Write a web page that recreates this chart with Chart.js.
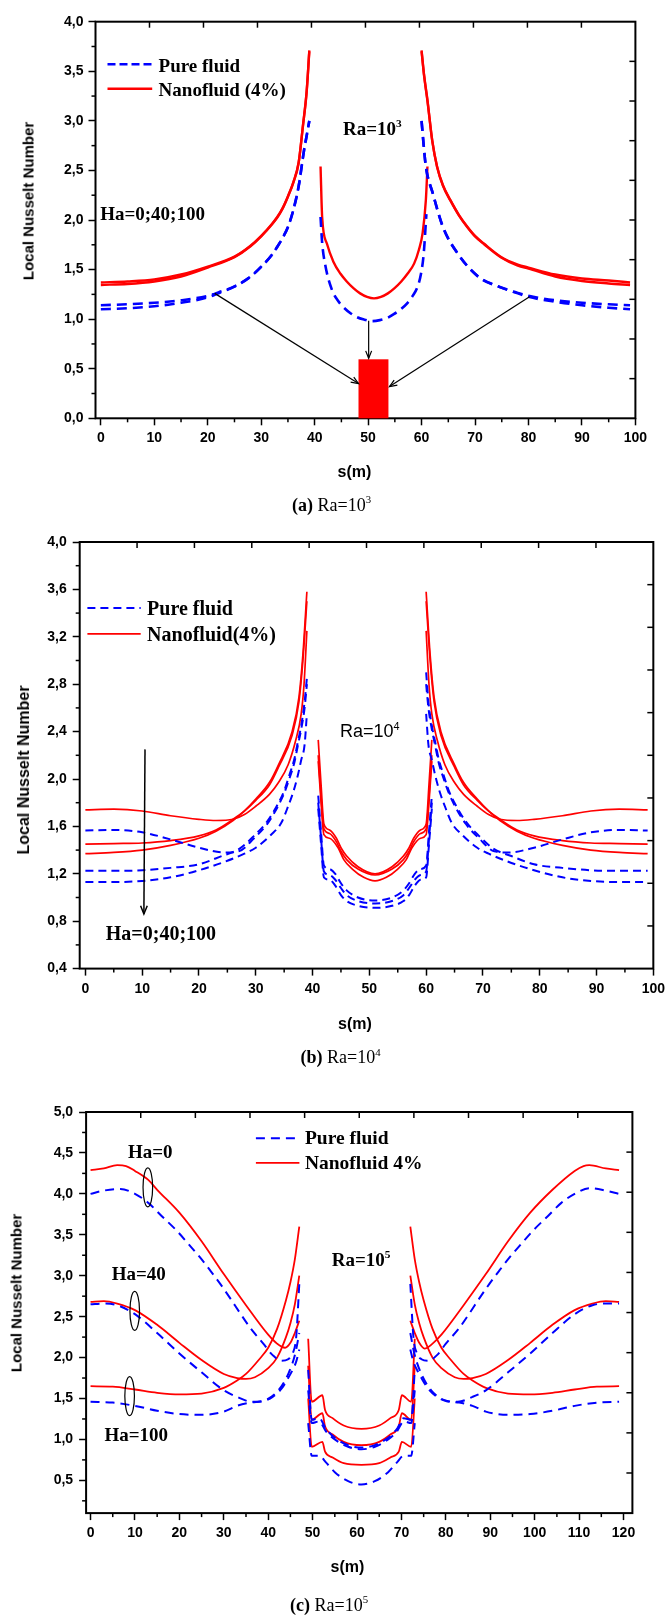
<!DOCTYPE html>
<html>
<head>
<meta charset="utf-8">
<script src="https://cdn.jsdelivr.net/npm/chart.js@4.4.0/dist/chart.umd.min.js"></script>
<style>
body { margin: 0; background: #fff; }
#page { position: relative; width: 670px; height: 1615px; background: #fff; overflow: hidden; }
canvas { position: absolute; left: 0; }
.t { position: absolute; white-space: nowrap; line-height: 1; color: #000; transform: translateY(-50%); }
.serif { font-family: "Liberation Serif", "Times New Roman", serif; font-weight: bold; }
.serifn { font-family: "Liberation Serif", "Times New Roman", serif; font-weight: normal; }
.sans { font-family: "Liberation Sans", Arial, sans-serif; }
.ytitle { font-family: "Liberation Sans", Arial, sans-serif; font-weight: bold; transform: translate(-50%, -50%) rotate(-90deg); }
.xtitle { font-family: "Liberation Sans", Arial, sans-serif; font-weight: bold; transform: translate(-50%, -50%); }
.sup { font-size: 60%; position: relative; top: -0.7em; }
</style>
</head>
<body>
<div id="page">
  <canvas id="chartA" width="670" height="520" style="top:0px"></canvas>
  <canvas id="chartB" width="670" height="530" style="top:520px"></canvas>
  <canvas id="chartC" width="670" height="565" style="top:1050px"></canvas>

  <!-- (a) -->
  <div class="t serif" style="left:158.6px; top:64.5px; font-size:19px">Pure fluid</div>
  <div class="t serif" style="left:158.6px; top:89px; font-size:19px">Nanofluid (4%)</div>
  <div class="t serif" style="left:343px; top:128px; font-size:19px">Ra=10<span class="sup">3</span></div>
  <div class="t serif" style="left:100.2px; top:213.3px; font-size:19px">Ha=0;40;100</div>
  <div class="t ytitle" style="left:27.7px; top:200.8px; font-size:15px">Local Nusselt Number</div>
  <div class="t xtitle" style="left:354.4px; top:471.7px; font-size:16px">s(m)</div>
  <div class="t serifn" style="left:292px; top:505px; font-size:18px"><b>(a)</b> Ra=10<span class="sup">3</span></div>

  <!-- (b) -->
  <div class="t serif" style="left:147.1px; top:607.9px; font-size:20px">Pure fluid</div>
  <div class="t serif" style="left:147.1px; top:633.9px; font-size:20px">Nanofluid(4%)</div>
  <div class="t sans" style="left:340px; top:731.3px; font-size:18px">Ra=10<span class="sup">4</span></div>
  <div class="t serif" style="left:105.8px; top:933.1px; font-size:20px">Ha=0;40;100</div>
  <div class="t ytitle" style="left:23.5px; top:770.2px; font-size:16px">Local Nusselt Number</div>
  <div class="t xtitle" style="left:355px; top:1023.7px; font-size:16px">s(m)</div>
  <div class="t serifn" style="left:300.6px; top:1057.2px; font-size:18px"><b>(b)</b> Ra=10<span class="sup">4</span></div>

  <!-- (c) -->
  <div class="t serif" style="left:304.9px; top:1138.3px; font-size:19.5px">Pure fluid</div>
  <div class="t serif" style="left:304.9px; top:1162.8px; font-size:19.5px">Nanofluid 4%</div>
  <div class="t serif" style="left:128px; top:1150.9px; font-size:19px">Ha=0</div>
  <div class="t serif" style="left:111.7px; top:1273.4px; font-size:19px">Ha=40</div>
  <div class="t serif" style="left:104.5px; top:1433.8px; font-size:19px">Ha=100</div>
  <div class="t serif" style="left:331.8px; top:1259px; font-size:19px">Ra=10<span class="sup">5</span></div>
  <div class="t ytitle" style="left:16.2px; top:1293.2px; font-size:15px">Local Nusselt Number</div>
  <div class="t xtitle" style="left:347.5px; top:1567.1px; font-size:16px">s(m)</div>
  <div class="t serifn" style="left:290px; top:1605px; font-size:18px"><b>(c)</b> Ra=10<span class="sup">5</span></div>
</div>

<script>
// ===== (a) Ra=10^3 : [s, Nu] =====
var aRedLeft1 = [[0,1.37],[5,1.38],[10,1.40],[15,1.45],[20,1.53],[25,1.63],[28,1.74],[30,1.84],[32,1.96],[33,2.03],[34,2.12],[35,2.24],[36,2.38],[37,2.58],[37.8,2.95],[38.5,3.3],[39,3.71]];
var aRedLeft2 = [[0,1.345],[5,1.355],[10,1.38],[15,1.43],[20,1.52],[25,1.625],[28,1.735],[30,1.835],[32,1.955],[33,2.025],[34,2.115],[35,2.235],[36,2.375],[37,2.575],[37.8,2.945],[38.5,3.29],[39,3.7]];
var aRedMid = [[41.1,2.54],[41.4,2.03],[42.3,1.76],[43.5,1.58],[44.8,1.46],[46,1.38],[47.3,1.31],[48.5,1.26],[49.8,1.225],[51.1,1.21],[52.4,1.225],[53.7,1.26],[54.9,1.31],[56.2,1.38],[57.4,1.46],[58.6,1.56],[59.5,1.7],[60.2,1.87],[60.8,2.2],[61.1,2.54]];
var aRedRight1 = [[60,3.71],[60.5,3.45],[61.1,3.21],[62,2.8],[62.9,2.54],[64,2.35],[65.4,2.2],[67,2.05],[68.6,1.93],[70,1.84],[71.7,1.76],[74.8,1.63],[78,1.55],[80,1.52],[85,1.45],[90,1.41],[95,1.39],[99,1.37]];
var aRedRight2 = [[60,3.7],[60.5,3.44],[61.1,3.2],[62,2.795],[62.9,2.535],[64,2.345],[65.4,2.195],[67,2.045],[68.6,1.925],[70,1.835],[71.7,1.755],[74.8,1.625],[78,1.54],[80,1.51],[85,1.43],[90,1.385],[95,1.36],[99,1.345]];
var aBlueLeft1 = [[0,1.14],[5,1.15],[10,1.165],[15,1.19],[20,1.235],[22,1.27],[25,1.33],[28,1.43],[30,1.53],[32,1.65],[33,1.73],[34,1.82],[35,1.93],[36,2.1],[37,2.34],[38,2.7],[38.5,2.85],[39,3.0]];
var aBlueLeft2 = [[0,1.10],[5,1.11],[10,1.13],[15,1.165],[20,1.22],[22,1.262],[25,1.328],[28,1.428],[30,1.528],[32,1.648],[33,1.728],[34,1.818],[35,1.928],[36,2.098],[37,2.338],[38,2.698],[38.5,2.848],[39,2.998]];
var aBlueMid = [[41.1,2.03],[41.4,1.77],[42,1.54],[43.2,1.3],[44.3,1.19],[45.4,1.12],[46.7,1.06],[47.9,1.02],[49.3,0.995],[50.7,0.98],[52.2,0.99],[53.5,1.01],[54.8,1.05],[56.1,1.1],[57.3,1.16],[58.4,1.24],[59.2,1.32],[59.9,1.46],[60.4,1.66],[60.9,2.06]];
var aBlueRight1 = [[60,3.0],[60.4,2.75],[60.8,2.54],[62.1,2.27],[64,1.93],[66.8,1.66],[70.6,1.43],[74.4,1.33],[78,1.265],[80,1.235],[85,1.19],[90,1.165],[95,1.15],[99,1.14]];
var aBlueRight2 = [[60,2.998],[60.4,2.748],[60.8,2.538],[62.1,2.268],[64,1.928],[66.8,1.658],[70.6,1.428],[74.4,1.328],[78,1.26],[80,1.225],[85,1.175],[90,1.14],[95,1.115],[99,1.10]];
var aXTicks = [0,10,20,30,40,50,60,70,80,90,100];
var aXMinor = [5,15,25,35,45,55,65,75,85,95];
var aYTicks = [0,0.5,1,1.5,2,2.5,3,3.5,4];
var aYMinor = [0.25,0.75,1.25,1.75,2.25,2.75,3.25,3.75];
var aArrows = [[21.3,1.26,48.2,0.35],[80.2,1.227,54.0,0.32],[50.1,0.985,50.1,0.605]];
var aHeater = [48.2,53.8,0,0.595];

// ===== (b) Ra=10^4 =====
var bRed0L = [[0,1.74],[5,1.745],[10,1.73],[15,1.69],[20,1.66],[23,1.65],[26,1.66],[28,1.7],[30,1.77],[32.4,1.87],[34,1.97],[35.7,2.12],[37,2.32],[38,2.55],[38.5,2.8],[39,3.25]];
var bRed40L = [[0,1.45],[5,1.455],[10,1.46],[15,1.48],[20,1.52],[23,1.57],[26,1.66],[28,1.73],[30,1.82],[32.4,1.95],[34,2.1],[36.4,2.37],[37.6,2.65],[38.3,3.0],[39,3.5]];
var bRed100L = [[0,1.37],[5,1.38],[10,1.4],[15,1.44],[20,1.5],[23,1.56],[26,1.65],[28,1.73],[30,1.83],[32.4,1.97],[34,2.12],[36.4,2.4],[37.6,2.69],[38.3,3.05],[39,3.58]];
var bRed0M = [[41,2.33],[41.5,1.95],[42,1.62],[43,1.57],[44.2,1.5],[45,1.42],[46,1.35],[48,1.26],[51,1.2],[54,1.26],[56,1.35],[57,1.42],[57.8,1.5],[59,1.57],[60,1.62],[60.5,1.95],[61,2.33]];
var bRed40M = [[41,2.2],[41.5,1.85],[42,1.58],[43,1.54],[44.2,1.47],[45,1.39],[46,1.32],[48,1.24],[51,1.19],[54,1.24],[56,1.32],[57,1.39],[57.8,1.47],[59,1.54],[60,1.58],[60.5,1.85],[61,2.2]];
var bRed100M = [[41,2.15],[41.5,1.8],[42,1.53],[43,1.5],[44.5,1.42],[45.5,1.32],[47,1.24],[49,1.17],[51,1.14],[53,1.17],[55,1.24],[56.5,1.32],[57.5,1.42],[59,1.5],[60,1.53],[60.5,1.8],[61,2.15]];
var bRed0R = [[60,3.25],[60.5,2.8],[61,2.55],[62,2.32],[63.3,2.12],[65,1.97],[66.6,1.87],[69,1.77],[71,1.7],[73,1.66],[76,1.65],[79,1.66],[84,1.69],[89,1.73],[94,1.745],[99,1.74]];
var bRed40R = [[60,3.5],[60.7,3.0],[61.4,2.65],[62.6,2.37],[65,2.1],[66.6,1.95],[69,1.82],[71,1.73],[73,1.66],[76,1.57],[79,1.52],[84,1.48],[89,1.46],[94,1.455],[99,1.45]];
var bRed100R = [[60,3.58],[60.7,3.05],[61.4,2.69],[62.6,2.4],[65,2.12],[66.6,1.97],[69,1.83],[71,1.73],[73,1.65],[76,1.56],[79,1.5],[84,1.44],[89,1.4],[94,1.38],[99,1.37]];
var bBlue0L = [[0,1.565],[5,1.57],[10,1.55],[15,1.49],[20,1.42],[24.5,1.38],[27,1.39],[29.7,1.5],[32,1.62],[33.8,1.76],[35,1.88],[35.9,2.0],[36.8,2.14],[37.4,2.28],[38,2.42],[38.6,2.6],[39,2.8]];
var bBlue40L = [[0,1.225],[5,1.225],[10,1.23],[15,1.25],[20,1.28],[24,1.35],[27.1,1.41],[29.7,1.52],[32,1.64],[33.8,1.78],[35,1.9],[35.9,2.03],[36.8,2.17],[37.4,2.31],[38,2.45],[38.6,2.65],[39,2.85]];
var bBlue100L = [[0,1.13],[5,1.13],[10,1.14],[15,1.17],[20,1.23],[25,1.31],[28,1.37],[30,1.42],[32.7,1.53],[34.5,1.63],[35.7,1.77],[36.6,1.89],[37.4,2.03],[38,2.16],[38.6,2.29],[39,2.55]];
var bBlue0M = [[41,1.86],[41.5,1.55],[42,1.27],[43,1.24],[44,1.2],[45,1.12],[46,1.06],[48,1.0],[51,0.975],[54,1.0],[56,1.06],[57,1.12],[58,1.2],[59,1.24],[60,1.27],[60.5,1.55],[61,1.86]];
var bBlue40M = [[41,1.8],[41.5,1.5],[42,1.22],[43,1.19],[44,1.15],[45,1.08],[46,1.02],[48,0.97],[51,0.95],[54,0.97],[56,1.02],[57,1.08],[58,1.15],[59,1.19],[60,1.22],[60.5,1.5],[61,1.8]];
var bBlue100M = [[41,1.75],[41.5,1.45],[42,1.17],[43,1.15],[44,1.1],[45,1.02],[46,0.97],[48,0.93],[51,0.913],[54,0.93],[56,0.97],[57,1.02],[58,1.1],[59,1.15],[60,1.17],[60.5,1.45],[61,1.75]];
var bBlue0R = [[60,2.8],[60.4,2.6],[61,2.42],[61.6,2.28],[62.2,2.14],[63.1,2.0],[64,1.88],[65.2,1.76],[67,1.62],[69.3,1.5],[72,1.39],[74.5,1.38],[79,1.42],[84,1.49],[89,1.55],[94,1.57],[99,1.565]];
var bBlue40R = [[60,2.9],[60.4,2.65],[61,2.45],[61.6,2.31],[62.2,2.17],[63.1,2.03],[64,1.9],[65.2,1.78],[67,1.64],[69.3,1.52],[71.9,1.41],[75,1.35],[79,1.28],[84,1.25],[89,1.23],[94,1.225],[99,1.225]];
var bBlue100R = [[60,2.55],[60.4,2.29],[61,2.16],[61.6,2.03],[62.4,1.89],[63.3,1.77],[64.5,1.63],[66.3,1.53],[69,1.42],[71,1.37],[74,1.31],[79,1.23],[84,1.17],[89,1.14],[94,1.13],[99,1.13]];
var bXTicks = [0,10,20,30,40,50,60,70,80,90,100];
var bXMinor = [5,15,25,35,45,55,65,75,85,95];
var bYTicks = [0.4,0.8,1.2,1.6,2.0,2.4,2.8,3.2,3.6,4.0];
var bYMinor = [0.6,1.0,1.4,1.8,2.2,2.6,3.0,3.4,3.8];
var bArrow = [10.5,2.25,10.3,0.86];

// ===== (c) Ra=10^5 =====
var cRed0L = [[0,4.29],[3,4.31],[6,4.35],[8,4.34],[10,4.28],[13,4.17],[15,4.05],[20,3.77],[25,3.42],[30,3.02],[35,2.64],[40,2.28],[42,2.17],[43.8,2.12],[45,2.18],[46,2.3],[47,2.45]];
var cRed40L = [[0,2.68],[3,2.69],[6,2.66],[10,2.58],[15,2.4],[20,2.18],[25,1.97],[30,1.8],[33,1.75],[35,1.74],[37,1.76],[40,1.87],[42,2.0],[44,2.25],[45,2.42],[46,2.65],[47,3.0]];
var cRed100L = [[0,1.65],[5,1.645],[10,1.61],[15,1.57],[20,1.55],[25,1.56],[30,1.63],[33,1.72],[35,1.8],[38,1.98],[40,2.12],[42,2.35],[44,2.7],[45,2.92],[46,3.2],[47,3.6]];
var cRed0M = [[49,2.23],[49.8,1.46],[52.2,1.54],[52.8,1.36],[54.5,1.26],[57,1.17],[61,1.13],[65,1.17],[67.5,1.26],[69.4,1.36],[70.1,1.54],[72.2,1.46],[73,2.23]];
var cRed40M = [[49,1.9],[49.8,1.24],[52.2,1.32],[52.8,1.16],[54.5,1.06],[57,0.97],[61,0.93],[65,0.97],[67.5,1.06],[69.4,1.16],[70.1,1.32],[72.2,1.24],[73,1.9]];
var cRed100M = [[49,1.5],[49.8,0.91],[52.2,0.97],[52.8,0.85],[54.5,0.78],[57,0.71],[61,0.69],[65,0.71],[67.5,0.78],[69.4,0.85],[70.1,0.97],[72.2,0.91],[73,1.5]];
var cRed0R = [[72,2.45],[73,2.3],[74,2.18],[75.2,2.11],[77,2.17],[79,2.28],[84,2.64],[89,3.02],[94,3.42],[99,3.77],[104,4.05],[109,4.28],[111,4.34],[112.3,4.35],[116,4.31],[119,4.29]];
var cRed40R = [[72,3.0],[73,2.65],[74,2.42],[75,2.25],[77,2.0],[79,1.87],[82,1.76],[84,1.74],[86,1.75],[89,1.8],[94,1.97],[99,2.18],[104,2.4],[109,2.58],[113,2.66],[116,2.69],[119,2.68]];
var cRed100R = [[72,3.6],[73,3.2],[74,2.92],[75,2.7],[77,2.35],[79,2.12],[81,1.98],[84,1.8],[86,1.72],[89,1.63],[94,1.56],[99,1.55],[104,1.57],[109,1.61],[114,1.645],[119,1.65]];
var cBlue0L = [[0,4.0],[3,4.04],[6.7,4.06],[10,4.0],[13,3.89],[16,3.73],[19.4,3.55],[22,3.39],[24.7,3.22],[27,3.06],[29.2,2.9],[31.5,2.72],[33.7,2.54],[36,2.36],[38.9,2.17],[41,2.03],[43,1.96],[44.5,1.98],[45.5,2.05],[46.3,2.25],[47,2.9]];
var cBlue40L = [[0,2.65],[3,2.66],[6,2.64],[10,2.53],[15,2.3],[20,2.05],[25,1.82],[30,1.6],[33,1.52],[36.3,1.46],[39.3,1.48],[42.3,1.6],[44.6,1.81],[46.1,2.05],[47,2.3]];
var cBlue100L = [[0,1.46],[5,1.45],[10,1.41],[15,1.35],[20,1.31],[25,1.3],[30,1.34],[33,1.41],[36,1.45],[39,1.47],[41,1.52],[43,1.62],[44.5,1.75],[45.5,1.85],[46.3,1.95],[47,2.1]];
var cBlue0M = [[49,1.85],[49.8,1.24],[51.5,1.26],[53,1.13],[55,1.02],[58,0.93],[61,0.9],[64,0.93],[67,1.02],[69,1.13],[70.5,1.26],[72.2,1.24],[73,1.85]];
var cBlue40M = [[49,1.6],[49.8,1.2],[51.5,1.22],[53,1.1],[55,1.0],[58,0.91],[61,0.88],[64,0.91],[67,1.0],[69,1.1],[70.5,1.22],[72.2,1.2],[73,1.6]];
var cBlue100M = [[49,1.2],[49.8,0.8],[51.5,0.8],[53,0.72],[55,0.6],[58,0.49],[61,0.45],[64,0.49],[67,0.6],[69,0.72],[70.5,0.8],[72.2,0.8],[73,1.2]];
var cBlue0R = [[72,2.9],[72.7,2.25],[73.5,2.05],[74.5,1.98],[76,1.96],[78,2.03],[80,2.17],[83,2.36],[85.3,2.54],[87.5,2.72],[89.8,2.9],[92,3.06],[94.3,3.22],[97,3.39],[99.6,3.55],[103,3.73],[106,3.89],[109,4.0],[112.3,4.07],[116,4.04],[119,4.0]];
var cBlue40R = [[72,2.3],[72.9,2.05],[74.4,1.81],[76.7,1.6],[79.7,1.48],[82.7,1.46],[86,1.52],[89,1.6],[94,1.82],[99,2.05],[104,2.3],[109,2.53],[113,2.64],[116,2.66],[119,2.66]];
var cBlue100R = [[72,2.1],[72.7,1.95],[73.5,1.85],[74.5,1.75],[76,1.62],[78,1.52],[80,1.47],[83,1.45],[86,1.41],[89,1.34],[94,1.3],[99,1.31],[104,1.35],[109,1.41],[114,1.45],[119,1.46]];
var cXTicks = [0,10,20,30,40,50,60,70,80,90,100,110,120];
var cXMinor = [5,15,25,35,45,55,65,75,85,95,105,115];
var cYTicks = [0.5,1,1.5,2,2.5,3,3.5,4,4.5,5];
var cYMinor = [0.25,0.75,1.25,1.75,2.25,2.75,3.25,3.75,4.25,4.75];
var cEllipses = [[12.9,4.08],[9.95,2.57],[8.8,1.53]];

Chart.defaults.font.family = "'Liberation Sans', Arial, sans-serif";
Chart.defaults.color = '#000';

var RED = 'rgb(255,0,0)';
var BLUE = 'rgb(0,0,255)';

function toXY(arr) {
    return arr.map(function(p){ return { x: p[0], y: p[1] }; });
}

function redLine(arr, w) {
    return { data: toXY(arr), borderColor: RED, borderWidth: w, pointRadius: 0, fill: false, cubicInterpolationMode: 'monotone' };
}

function blueLine(arr, w, dash) {
    return { data: toXY(arr), borderColor: BLUE, borderWidth: w, borderDash: dash, pointRadius: 0, fill: false, cubicInterpolationMode: 'monotone' };
}

function seg(ctx, x1, y1, x2, y2) {
    ctx.beginPath(); ctx.moveTo(x1, y1); ctx.lineTo(x2, y2); ctx.stroke();
}

function arrow(ctx, x1, y1, x2, y2, head) {
    seg(ctx, x1, y1, x2, y2);
    var ang = Math.atan2(y2 - y1, x2 - x1);
    ctx.beginPath();
    ctx.moveTo(x2 - head * Math.cos(ang - 0.38), y2 - head * Math.sin(ang - 0.38));
    ctx.lineTo(x2, y2);
    ctx.lineTo(x2 - head * Math.cos(ang + 0.38), y2 - head * Math.sin(ang + 0.38));
    ctx.stroke();
}

// frame, minor ticks, mirrored top/right ticks, legend samples and extras
function framePlugin(o) {
    return {
        id: 'frame',
        afterDraw: function(chart) {
            var ctx = chart.ctx, a = chart.chartArea;
            var xs = chart.scales.x, ys = chart.scales.y;
            ctx.save();
            ctx.strokeStyle = '#000';
            ctx.lineWidth = 1.5;
            o.xMinor.forEach(function(v){ var px = xs.getPixelForValue(v); seg(ctx, px, a.bottom, px, a.bottom + 4); });
            o.yMinor.forEach(function(v){ var py = ys.getPixelForValue(v); seg(ctx, a.left - 4, py, a.left, py); });
            for (var i = 1; i < 10; i++) {
                var px = a.left + (a.right - a.left) * i / 10;
                seg(ctx, px, a.top, px, a.top + 6);
                var py = a.top + (a.bottom - a.top) * i / 10;
                seg(ctx, a.right - 6, py, a.right, py);
            }
            ctx.lineWidth = 2;
            ctx.strokeRect(a.left, a.top, a.right - a.left, a.bottom - a.top);

            // legend samples
            ctx.lineWidth = o.blueW; ctx.strokeStyle = BLUE; ctx.setLineDash(o.dash);
            seg(ctx, o.legend[0], o.legend[2], o.legend[1], o.legend[2]);
            ctx.setLineDash([]);
            ctx.lineWidth = o.redW; ctx.strokeStyle = RED;
            seg(ctx, o.legend[0], o.legend[3], o.legend[1], o.legend[3]);

            ctx.strokeStyle = '#000';
            if (o.extra) o.extra(chart, ctx, xs, ys);
            ctx.restore();
        }
    };
}

function makeChart(id, cfg) {
    var H = document.getElementById(id).height;
    var fmtY = function(v){ return v.toFixed(1).replace('.', ','); };
    return new Chart(document.getElementById(id), {
        type: 'line',
        data: { datasets: cfg.datasets },
        options: {
            responsive: false,
            animation: false,
            layout: { padding: { left: 0, top: cfg.area[1], right: 670 - cfg.area[2], bottom: H - cfg.area[3] - 60 } },
            plugins: { legend: { display: false }, tooltip: { enabled: false } },
            scales: {
                x: {
                    type: 'linear', min: cfg.xMin, max: cfg.xMax,
                    afterBuildTicks: function(s){ s.ticks = cfg.xTicks.map(function(v){ return { value: v }; }); },
                    afterFit: function(s){ s.height = 60; },
                    grid: { drawOnChartArea: false, drawTicks: true, tickLength: 7, tickWidth: 1.5, tickColor: '#000' },
                    border: { display: false },
                    ticks: { autoSkip: false, maxRotation: 0, padding: cfg.xPad, font: { size: 14, weight: 'bold' }, color: '#000' }
                },
                y: {
                    type: 'linear', min: cfg.yMin, max: cfg.yMax,
                    afterBuildTicks: function(s){ s.ticks = cfg.yTicks.map(function(v){ return { value: v }; }); },
                    afterFit: function(s){ s.width = cfg.area[0]; },
                    grid: { drawOnChartArea: false, drawTicks: true, tickLength: 7, tickWidth: 1.5, tickColor: '#000' },
                    border: { display: false },
                    ticks: { padding: cfg.yPad, font: { size: 14, weight: 'bold' }, color: '#000', callback: fmtY }
                }
            }
        },
        plugins: [framePlugin(cfg.frame)]
    });
}

// ---- chart (a)
var aDash = [10, 6];
makeChart('chartA', {
    area: [95.5, 21.7, 635.4, 418.3],
    xMin: -1, xMax: 100, yMin: 0, yMax: 4,
    xTicks: aXTicks, yTicks: aYTicks, xPad: 4, yPad: 5,
    datasets: [
        blueLine(aBlueLeft1, 2.6, aDash), blueLine(aBlueLeft2, 2.6, aDash), blueLine(aBlueMid, 2.6, aDash),
        blueLine(aBlueRight1, 2.6, aDash), blueLine(aBlueRight2, 2.6, aDash),
        redLine(aRedLeft1, 2.4), redLine(aRedLeft2, 2.4), redLine(aRedMid, 2.4),
        redLine(aRedRight1, 2.4), redLine(aRedRight2, 2.4)
    ],
    frame: {
        xMinor: aXMinor, yMinor: aYMinor, legend: [107.5, 152.2, 64.3, 88.7],
        blueW: 2.6, redW: 2.4, dash: [8, 4],
        extra: function(chart, ctx, xs, ys) {
            // heater block
            var x1 = xs.getPixelForValue(aHeater[0]), x2 = xs.getPixelForValue(aHeater[1]);
            var y1 = ys.getPixelForValue(aHeater[3]), y2 = ys.getPixelForValue(aHeater[2]);
            ctx.fillStyle = RED;
            ctx.fillRect(x1, y1, x2 - x1, y2 - y1);
            ctx.strokeStyle = '#000';
            ctx.lineWidth = 1.2;
            aArrows.forEach(function(r){
                arrow(ctx, xs.getPixelForValue(r[0]), ys.getPixelForValue(r[1]), xs.getPixelForValue(r[2]), ys.getPixelForValue(r[3]), 8);
            });
        }
    }
});

// ---- chart (b)
var bDash = [8, 5];
makeChart('chartB', {
    area: [79.7, 22.0, 654.6, 448.6],
    xMin: -1, xMax: 100, yMin: 0.4, yMax: 4.0,
    xTicks: bXTicks, yTicks: bYTicks, xPad: 5, yPad: 6,
    datasets: [
        blueLine(bBlue0L, 2, bDash), blueLine(bBlue40L, 2, bDash), blueLine(bBlue100L, 2, bDash),
        blueLine(bBlue0M, 2, bDash), blueLine(bBlue40M, 2, bDash), blueLine(bBlue100M, 2, bDash),
        blueLine(bBlue0R, 2, bDash), blueLine(bBlue40R, 2, bDash), blueLine(bBlue100R, 2, bDash),
        redLine(bRed0L, 1.7), redLine(bRed40L, 1.7), redLine(bRed100L, 1.7),
        redLine(bRed0M, 1.7), redLine(bRed40M, 1.7), redLine(bRed100M, 1.7),
        redLine(bRed0R, 1.7), redLine(bRed40R, 1.7), redLine(bRed100R, 1.7)
    ],
    frame: {
        xMinor: bXMinor, yMinor: bYMinor, legend: [87.4, 140.7, 87.9, 113.9],
        blueW: 2, redW: 1.8, dash: bDash,
        extra: function(chart, ctx, xs, ys) {
            ctx.lineWidth = 1.5;
            arrow(ctx, xs.getPixelForValue(bArrow[0]), ys.getPixelForValue(bArrow[1]), xs.getPixelForValue(bArrow[2]), ys.getPixelForValue(bArrow[3]), 9);
        }
    }
});

// ---- chart (c)
var cDash = [9, 6];
makeChart('chartC', {
    area: [86.1, 62.0, 632.4, 463.1],
    xMin: -1, xMax: 122, yMin: 0.1, yMax: 5.0,
    xTicks: cXTicks, yTicks: cYTicks, xPad: 4.5, yPad: 6,
    datasets: [
        blueLine(cBlue0L, 2, cDash), blueLine(cBlue40L, 2, cDash), blueLine(cBlue100L, 2, cDash),
        blueLine(cBlue0M, 2, cDash), blueLine(cBlue40M, 2, cDash), blueLine(cBlue100M, 2, cDash),
        blueLine(cBlue0R, 2, cDash), blueLine(cBlue40R, 2, cDash), blueLine(cBlue100R, 2, cDash),
        redLine(cRed0L, 1.8), redLine(cRed40L, 1.8), redLine(cRed100L, 1.8),
        redLine(cRed0M, 1.8), redLine(cRed40M, 1.8), redLine(cRed100M, 1.8),
        redLine(cRed0R, 1.8), redLine(cRed40R, 1.8), redLine(cRed100R, 1.8)
    ],
    frame: {
        xMinor: cXMinor, yMinor: cYMinor, legend: [255.9, 299.4, 88.3, 112.8],
        blueW: 2, redW: 1.8, dash: cDash,
        extra: function(chart, ctx, xs, ys) {
            ctx.lineWidth = 1.2;
            cEllipses.forEach(function(e){
                ctx.beginPath();
                ctx.ellipse(xs.getPixelForValue(e[0]), ys.getPixelForValue(e[1]), 4.8, 19.5, 0, 0, Math.PI * 2);
                ctx.stroke();
            });
        }
    }
});
</script>
</body>
</html>
